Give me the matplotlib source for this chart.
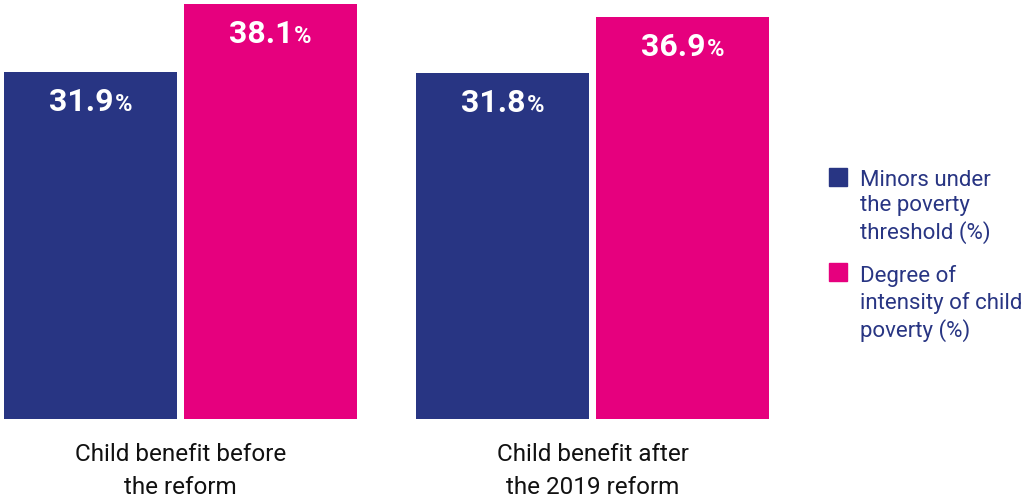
import matplotlib
matplotlib.use("Agg")
import matplotlib.pyplot as plt
from matplotlib.patches import Rectangle
import numpy as np

categories = ["Child benefit before\nthe reform", "Child benefit after\nthe 2019 reform"]
series_names = ["Minors under\nthe poverty\nthreshold (%)", "Degree of\nintensity of child\npoverty (%)"]
minors = [31.9, 31.8]
intensity = [38.1, 36.9]
colors = ["#283583", "#E6007E"]

plt.rcParams['font.family'] = ['Roboto', 'DejaVu Sans']

W, H = 1025, 500
fig = plt.figure(figsize=(W/100, H/100), dpi=100)
ax = fig.add_axes([4/W, (H-419)/H, 765/W, 415/H])

x = np.arange(len(categories))
bw = 0.419
off = 0.218
b1 = ax.bar(x - off, minors, bw, color=colors[0])
b2 = ax.bar(x + off, intensity, bw, color=colors[1])
ax.set_xlim(-off - bw/2, 1 + off + bw/2)
ax.set_ylim(0, max(intensity))
ax.axis('off')

fig.canvas.draw()
renderer = fig.canvas.get_renderer()

def value_label(xc, ytop, val):
    disp = ax.transData.transform((xc, ytop))
    ybase = disp[1] - 39
    t1 = fig.text(0, 0, f"{val:.1f}", fontsize=23, fontweight='bold', color='white',
                  ha='left', va='baseline', transform=None)
    t2 = fig.text(0, 0, "%", fontsize=17, fontweight='bold', color='white',
                  ha='left', va='baseline', transform=None)
    e1 = t1.get_window_extent(renderer)
    e2 = t2.get_window_extent(renderer)
    total = e1.width + e2.width + 1
    x0 = disp[0] - total/2
    t1.set_position((x0, ybase))
    t2.set_position((x0 + e1.width + 1, ybase))

for i in range(len(categories)):
    value_label(x[i] - off, minors[i], minors[i])
    value_label(x[i] + off, intensity[i], intensity[i])

for i, c in enumerate(categories):
    ax.text(x[i], -2.2, c, ha='center', va='top', fontsize=17.5, color='#111111',
            linespacing=1.55)

# legend
lx, sq = 829, 18
tops = [168, 263]
for i, name in enumerate(series_names):
    fig.patches.append(Rectangle((lx/W, (H - tops[i] - sq)/H), sq/W, sq/H,
                                 transform=fig.transFigure, color=colors[i]))
    fig.text(860/W, (H - tops[i] - 2)/H, name, ha='left', va='top', fontsize=16,
             color='#283583', linespacing=1.28)

fig.savefig("out.png", dpi=100)
